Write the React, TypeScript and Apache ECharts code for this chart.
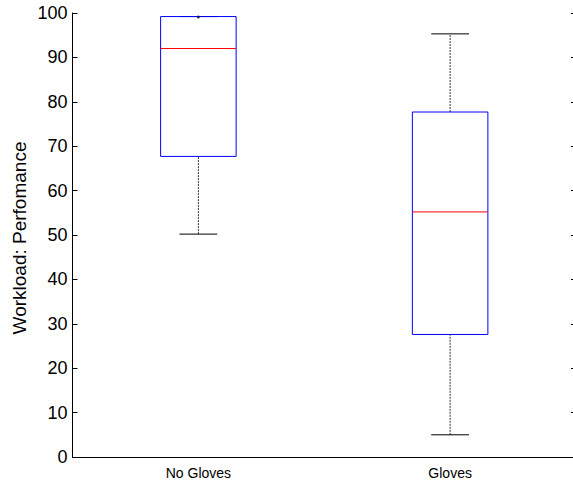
import React, { useEffect, useRef } from "react";
import * as echarts from "echarts";

const categories = ["No Gloves", "Gloves"];
const lowerWhisker = [50.2, 5.0];
const q1 = [67.7, 27.6];
const median = [92.0, 55.2];
const q3 = [99.2, 77.7];
const upperWhisker = [99.2, 95.3];
const outliers = [[0, 99.1]];
const yTicks = { min: 0, max: 100, interval: 10 };
const yTitle = "Workload: Perfomance";

const FONT = "'Liberation Sans', Arial, sans-serif";

export default function App() {
  const ref = useRef<HTMLDivElement>(null);
  useEffect(() => {
    if (!ref.current) return;
    const chart = echarts.init(ref.current, null, { renderer: "svg" });
    const data = categories.map((c, i) => [i, lowerWhisker[i], q1[i], median[i], q3[i], upperWhisker[i]]);
    const axisLine = { show: true, lineStyle: { color: "#000", width: 1 } };
    chart.setOption({
      animation: false,
      backgroundColor: "#fff",
      grid: { left: 72.5, top: 13, right: 4, bottom: 23 },
      xAxis: [
        {
          type: "category",
          data: categories,
          boundaryGap: true,
          axisLine,
          axisTick: { show: false },
          axisLabel: { fontSize: 14, color: "#000", fontFamily: FONT, margin: 9 },
          splitLine: { show: false },
        },
        {
          type: "category",
          data: categories,
          position: "top",
          axisLine,
          axisTick: { show: false },
          axisLabel: { show: false },
          splitLine: { show: false },
        },
      ],
      yAxis: [
        {
          type: "value",
          ...yTicks,
          axisLine,
          axisTick: { show: true, inside: true, length: 5, lineStyle: { color: "#000" } },
          axisLabel: { fontSize: 18, color: "#000", fontFamily: FONT, margin: 5 },
          splitLine: { show: false },
        },
        {
          type: "value",
          ...yTicks,
          position: "right",
          axisLine,
          axisTick: { show: true, inside: true, length: 5, lineStyle: { color: "#000" } },
          axisLabel: { show: false },
          splitLine: { show: false },
        },
      ],
      graphic: [
        {
          type: "text",
          x: 19,
          y: 238,
          rotation: Math.PI / 2,
          style: {
            text: yTitle,
            fontSize: 19,
            fontFamily: FONT,
            fill: "#000",
            align: "center",
            verticalAlign: "middle",
          },
        },
      ],
      series: [
        {
          type: "custom",
          data,
          encode: { x: 0, y: [1, 2, 3, 4, 5] },
          renderItem: (params: any, api: any) => {
            const idx = api.value(0);
            const pLo = api.coord([idx, api.value(1)]);
            const pQ1 = api.coord([idx, api.value(2)]);
            const pMed = api.coord([idx, api.value(3)]);
            const pQ3 = api.coord([idx, api.value(4)]);
            const pHi = api.coord([idx, api.value(5)]);
            const band = api.size([1, 0])[0];
            const bw = band * 0.3;
            const cw = bw / 2;
            const cx = pMed[0];
            const dash = { stroke: "#333", lineWidth: 1, lineDash: [2, 1] };
            const solid = { stroke: "#000", lineWidth: 1 };
            return {
              type: "group",
              children: [
                { type: "line", shape: { x1: cx, y1: pQ3[1], x2: cx, y2: pHi[1] }, style: dash },
                { type: "line", shape: { x1: cx, y1: pLo[1], x2: cx, y2: pQ1[1] }, style: dash },
                { type: "line", shape: { x1: cx - cw / 2, y1: pHi[1], x2: cx + cw / 2, y2: pHi[1] }, style: solid },
                { type: "line", shape: { x1: cx - cw / 2, y1: pLo[1], x2: cx + cw / 2, y2: pLo[1] }, style: solid },
                {
                  type: "rect",
                  shape: { x: cx - bw / 2, y: pQ3[1], width: bw, height: pQ1[1] - pQ3[1] },
                  style: { fill: "none", stroke: "#0000ff", lineWidth: 1 },
                },
                {
                  type: "line",
                  shape: { x1: cx - bw / 2, y1: pMed[1], x2: cx + bw / 2, y2: pMed[1] },
                  style: { stroke: "#ff0000", lineWidth: 1 },
                },
              ],
            };
          },
        },
        {
          type: "scatter",
          data: outliers,
          symbol: "circle",
          symbolSize: 3,
          itemStyle: { color: "#000033" },
        },
      ],
    });
    return () => chart.dispose();
  }, []);
  return (
    <div style={{ position: "fixed", left: 0, top: 0, width: 573, height: 480, overflow: "hidden", background: "#fff" }}>
      <div ref={ref} style={{ width: 580, height: 480 }} />
    </div>
  );
}
